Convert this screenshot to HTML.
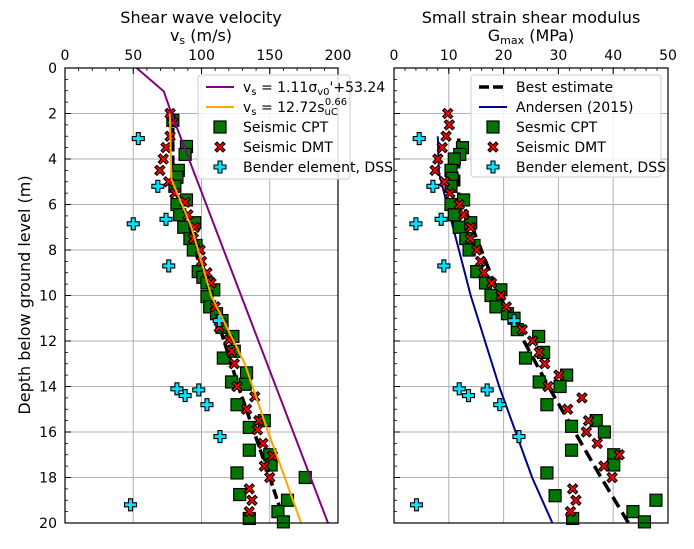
<!DOCTYPE html>
<html><head><meta charset="utf-8"><style>
html,body{margin:0;padding:0;background:#fff}
svg{display:block;font-family:"DejaVu Sans","Liberation Sans",sans-serif}
</style></head><body>
<svg id="c" width="694" height="549" viewBox="0 0 694 549" xmlns="http://www.w3.org/2000/svg"></svg>
<script>
// ---- Left panel data (depth m, vs m/s) ----
const vsTicks=[0,50,100,150,200];
const depthTicks=[0,2,4,6,8,10,12,14,16,18,20];
const purpleDepth=[0,1.03,2,20];
const purpleVs=[52.5,72.4,78,192.7];
const orangeDepth=[2,4.9,7,10,13,16,18,20];
const orangeVs=[76.8,78,92.7,107,131.7,148.8,161,173];
const bestLDepth=[2,5,10,14,18,20];
const bestLVs=[79,79,106,127,150,161];
const cptLDepth=[2.3,3.45,3.8,4.5,4.8,5.2,5.8,6.0,6.45,7.0,6.8,7.5,7.8,8.0,8.95,9.2,9.45,9.75,10.05,10.5,10.8,11.1,11.4,11.8,12.75,12.45,13.4,13.8,13.9,14.8,15.8,15.5,16.8,17.0,17.45,17.8,18.0,18.75,19.0,19.5,19.8,19.95];
const cptLVs=[79,89,88,83,82,80.5,89,82,84,87,95,91.5,96,94,97.6,101,104,109,104,106,111,115,115,123,116,124,133,122,132,126,135,146,135,150,151,126,176,128,163,156,135,160];
const dmtLDepth=[2,2.4,3.0,3.5,4.0,4.5,5.0,5.5,5.9,6.45,7.0,7.5,8.0,8.5,9.0,9.45,10.5,11.4,11.95,12.45,13.0,14.0,14.45,15.0,15.5,15.9,16.5,17.05,17.5,18.0,18.5,19.0,19.5];
const dmtLVs=[77,79,77,74,72,69.5,76,80.5,88,90,95,94,99,100,104,107,110,113,120,122,124,126,139,133,142,141,145,152,146,150,135,137,135];
const benLDepth=[3.1,5.2,6.65,6.85,8.7,11.1,14.1,14.4,14.15,14.8,16.2,19.2];
const benLVs=[53.7,68,74,50,76,113,82,88,98,104,113.5,48];
// ---- Right panel data (depth m, Gmax MPa) ----
const gTicks=[0,10,20,30,40,50];
const bestRDepth=[3.1,5.5,10,14,18,20];
const bestRG=[11.8,11.8,19.2,28.2,37.8,42.8];
const andDepth=[3.0,4.6,10,14,18,20];
const andG=[8.0,8.2,14,19.2,25.2,28.9];
const cptRDepth=[3.5,3.8,4.0,4.5,4.85,5.2,5.8,6.0,6.45,7.0,6.8,7.5,7.8,8.0,8.95,9.45,9.75,10.0,10.5,10.8,11.0,11.5,11.8,12.5,12.75,13.5,13.8,14.0,14.8,15.5,15.75,16.0,16.8,17.0,17.45,17.8,18.8,19.0,19.5,19.8,19.95];
const cptRG=[12.5,12.0,11.0,10.4,10.6,10.4,12.7,10.4,11.0,11.9,14.0,13.1,14.6,13.7,15.1,16.7,19.5,17.7,18.6,20.7,21.9,22.5,26.4,27.3,24.0,31.5,26.5,30.3,27.9,36.9,32.4,38.4,32.4,40.1,40.1,27.9,29.4,47.8,43.6,32.6,45.7];
const dmtRDepth=[2.0,2.5,3.0,3.5,4.0,4.5,5.0,5.5,6.0,6.45,7.0,7.5,8.0,8.5,9.0,9.45,10.0,10.5,11.5,12.0,12.5,13.0,13.5,14.0,14.5,15.0,15.5,16.0,16.5,17.0,17.5,18.0,18.5,19.0,19.5];
const dmtRG=[9.8,10.1,9.5,8.8,8.0,7.5,9.2,10.2,11.9,12.7,14.0,13.9,15.1,15.8,16.4,17.8,19.5,20.5,23.4,25.3,26.5,27.5,30.1,28.1,34.3,31.7,35.5,35.1,37.1,41.1,38.3,39.8,32.6,33.2,32.2];
const benRDepth=[3.1,5.2,6.65,6.85,8.7,11.1,14.1,14.4,14.15,14.8,16.2,19.2];
const benRG=[4.6,7.1,8.6,4.0,9.1,21.9,11.9,13.6,17.0,19.3,22.8,4.1];

const NS="http://www.w3.org/2000/svg";
const svg=document.getElementById('c');
function mk(tag,attrs,parent){const e=document.createElementNS(NS,tag);for(const k in attrs)e.setAttribute(k,attrs[k]);(parent||svg).appendChild(e);return e;}
const Y0=68,Y1=523;
const yS=d=>Y0+(Y1-Y0)*d/20;
const L={x0:65,x1:338,max:200};
const R={x0:394,x1:668,max:50};
const xL=v=>L.x0+(L.x1-L.x0)*v/L.max;
const xR=v=>R.x0+(R.x1-R.x0)*v/R.max;

function axes(P,xs,ticks,minorStep,name){
  const g=mk('g',{});
  
  
  ticks.forEach(t=>{const x=xs(t);mk('line',{x1:x,x2:x,y1:Y0,y2:Y1,stroke:'#b0b0b0','stroke-width':1},g);});
  depthTicks.forEach(d=>{mk('line',{x1:P.x0,x2:P.x1,y1:yS(d),y2:yS(d),stroke:'#b0b0b0','stroke-width':1},g);});
  for(let v=0;v<=P.max;v+=minorStep){const x=xs(v);mk('line',{x1:x,x2:x,y1:Y0,y2:Y0+3,stroke:'#000','stroke-width':0.8},g);}
  ticks.forEach(t=>{const x=xs(t);mk('line',{x1:x,x2:x,y1:Y0,y2:Y0+6,stroke:'#000','stroke-width':1},g);
    const tx=mk('text',{x:x,y:Y0-8,'text-anchor':'middle','font-size':14},g);tx.textContent=t;
    });
  for(let d=0;d<=20;d+=0.5){mk('line',{x1:P.x0,x2:P.x0+3,y1:yS(d),y2:yS(d),stroke:'#000','stroke-width':0.8},g);}
  depthTicks.forEach(d=>{mk('line',{x1:P.x0,x2:P.x0+6,y1:yS(d),y2:yS(d),stroke:'#000','stroke-width':1},g);});
  return g;
}
function line(xs,ds,vs,attrs,name){
  const pts=ds.map((d,i)=>xs(vs[i]).toFixed(1)+','+yS(d).toFixed(1)).join(' ');
  const p=mk('polyline',Object.assign({points:pts,fill:'none'},attrs));
  
}
function sq(x,y,parent){mk('rect',{x:x-6,y:y-6,width:12,height:12,fill:'#007700',stroke:'#000','stroke-width':1.2},parent);}
function cross(x,y,parent){const d='M-5,-3 L-3,-5 L0,-2 L3,-5 L5,-3 L2,0 L5,3 L3,5 L0,2 L-3,5 L-5,3 L-2,0 Z';
  mk('path',{d:d,transform:`translate(${x},${y})`,fill:'#ff0000',stroke:'#000','stroke-width':1.1},parent);}
function plus(x,y,parent){const d='M-2,-6 L2,-6 L2,-2 L6,-2 L6,2 L2,2 L2,6 L-2,6 L-2,2 L-6,2 L-6,-2 L-2,-2 Z';
  mk('path',{d:d,transform:`translate(${x},${y})`,fill:'#00e5ff',stroke:'#000','stroke-width':1.1},parent);}
function scatter(xs,ds,vs,fn,name){
  const g=mk('g',{});
  ds.forEach((d,i)=>fn(xs(vs[i]),yS(d),g));
}
// Left panel
axes(L,xL,vsTicks,10,'left');
line(xL,bestLDepth,bestLVs,{stroke:'#000','stroke-width':3.5,'stroke-dasharray':'10,4'},'left-best-estimate-line');
scatter(xL,cptLDepth,cptLVs,sq,'left-cpt-points');
scatter(xL,dmtLDepth,dmtLVs,cross,'left-dmt-points');
scatter(xL,benLDepth,benLVs,plus,'left-bender-points');
line(xL,purpleDepth,purpleVs,{stroke:'#800080','stroke-width':2},'purple-fit-line');
line(xL,orangeDepth,orangeVs,{stroke:'#ffa500','stroke-width':2},'orange-fit-line');
// Right panel
axes(R,xR,gTicks,2,'right');
line(xR,bestRDepth,bestRG,{stroke:'#000','stroke-width':3.5,'stroke-dasharray':'12,6'},'right-best-estimate-line');
line(xR,andDepth,andG,{stroke:'#00008b','stroke-width':2},'andersen-line');
scatter(xR,cptRDepth,cptRG,sq,'right-cpt-points');
scatter(xR,dmtRDepth,dmtRG,cross,'right-dmt-points');
scatter(xR,benRDepth,benRG,plus,'right-bender-points');
// frames
[L,R].forEach((P,i)=>{const r=mk('rect',{x:P.x0,y:Y0,width:P.x1-P.x0,height:Y1-Y0,fill:'none',stroke:'#000','stroke-width':1.2});
 });
// y tick labels
depthTicks.forEach(d=>{const t=mk('text',{x:57,y:yS(d)+5,'text-anchor':'end','font-size':14});t.textContent=d;
 });
// legends
function legend(x,y,w,h,rows,name){
  const g=mk('g',{});
  mk('rect',{x:x,y:y,width:w,height:h,rx:3,fill:'#fff','fill-opacity':0.85,stroke:'#ccc'},g);
  rows.forEach((r,i)=>{const cy=y+12+i*20;
    if(r.kind==='line')mk('line',Object.assign({x1:x+8,x2:x+36,y1:cy,y2:cy},r.style),g);
    else r.kind(x+22,cy,g);
    const t=mk('text',{x:x+45,y:cy+5,'font-size':14},g);t.innerHTML=r.label;
    });
}
legend(198,75,152,104,[
 {kind:'line',style:{stroke:'#800080','stroke-width':2},label:'v<tspan font-size="10" dy="3">s</tspan><tspan dy="-3"> = 1.11σ</tspan><tspan font-size="10" dy="3">v0</tspan><tspan dy="-3">\'+53.24</tspan>'},
 {kind:'line',style:{stroke:'#ffa500','stroke-width':2},label:'v<tspan font-size="10" dy="3">s</tspan><tspan dy="-3"> = 12.72s</tspan><tspan font-size="10" dy="3">uC</tspan><tspan font-size="10" dx="-13" dy="-10">0.66</tspan>'},
 {kind:sq,label:'Seismic CPT'},{kind:cross,label:'Seismic DMT'},{kind:plus,label:'Bender element, DSS'}],'left-legend');
legend(471,75,190,102,[
 {kind:'line',style:{stroke:'#000','stroke-width':3.5,'stroke-dasharray':'10,4'},label:'Best estimate'},
 {kind:'line',style:{stroke:'#00008b','stroke-width':2},label:'Andersen (2015)'},
 {kind:sq,label:'Sesmic CPT'},{kind:cross,label:'Seismic DMT'},{kind:plus,label:'Bender element, DSS'}],'right-legend');
// titles
function txt(x,y,s,size,name,extra){const t=mk('text',Object.assign({x:x,y:y,'text-anchor':'middle','font-size':size},extra||{}));t.innerHTML=s;
 }
txt(201,23,'Shear wave velocity',16,'left-title');
txt(201,41,'v<tspan font-size="11" dy="3">s</tspan><tspan dy="-3"> (m/s)</tspan>',16,'left-x-axis-title');
txt(531,23,'Small strain shear modulus',16,'right-title');
txt(531,41,'G<tspan font-size="11" dy="3">max</tspan><tspan dy="-3"> (MPa)</tspan>',16,'right-x-axis-title');
txt(30,295,'Depth below ground level (m)',16,'y-axis-title',{transform:'rotate(-90 30 295)'});
</script>
</body></html>
